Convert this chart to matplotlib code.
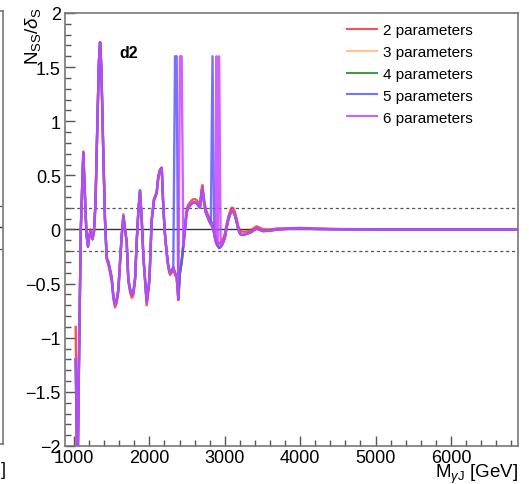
import matplotlib
matplotlib.use("Agg")
import matplotlib.pyplot as plt

plt.rcParams['font.family'] = ['Liberation Sans', 'DejaVu Sans']
plt.rcParams['mathtext.fontset'] = 'custom'
plt.rcParams['mathtext.rm'] = 'Liberation Sans'
plt.rcParams['mathtext.it'] = 'Liberation Sans:italic'

# mass points (GeV) and N_SS/delta_S for each fit function
mass = [1022, 1045, 1068, 1090, 1112, 1123, 1145, 1165, 1185, 1205, 1220, 1245,
        1265, 1285, 1310, 1330, 1345, 1362, 1385, 1410, 1433, 1455, 1477, 1500,
        1521, 1544, 1566, 1588, 1610, 1633, 1655, 1677, 1699, 1720, 1743, 1765,
        1787, 1810, 1832, 1853, 1875, 1898, 1920, 1942, 1964, 1985, 2000, 2030,
        2061, 2096, 2118, 2140, 2163, 2185, 2207, 2229, 2251, 2273, 2295, 2317,
        2340, 2361, 2383, 2405, 2428, 2450, 2472, 2494, 2516, 2538, 2560, 2583,
        2605, 2627, 2650, 2671, 2693, 2703, 2725, 2747, 2770, 2792, 2815, 2837,
        2860, 2870, 2880, 2890, 2905, 2925, 2945, 2965, 2985, 3003, 3025, 3047,
        3070, 3090, 3110, 3135, 3157, 3180, 3202, 3224, 3250, 3290, 3330, 3360,
        3400, 3422, 3450, 3510, 3600, 3700, 3800, 4000, 4200, 4500, 5000, 6000,
        6880]

nss_2par = [-0.90, -2.30, -1.05, 0.02, 0.52, 0.72, 0.32, -0.04, -0.13, -0.04, 0.00, -0.07,
            -0.01, 0.26, 1.00, 1.55, 1.73, 1.50, 0.80, 0.10, -0.28, -0.33, -0.40, -0.48,
            -0.64, -0.72, -0.68, -0.58, -0.32, -0.06, 0.14, 0.00, -0.12, -0.48, -0.58, -0.63,
            -0.61, -0.47, -0.10, 0.18, 0.35, 0.09, -0.26, -0.48, -0.70, -0.58, -0.48, 0.07,
            0.26, 0.33, 0.47, 0.54, 0.57, 0.20, -0.05, -0.23, -0.36, -0.42, -0.40, -0.37,
            -0.42, -0.45, -0.62, -0.38, -0.28, -0.12, 0.03, 0.19, 0.23, 0.25, 0.27, 0.28,
            0.28, 0.27, 0.25, 0.23, 0.38, 0.41, 0.28, 0.19, 0.15, 0.11, 0.08, 0.05,
            -0.01, -0.05, -0.08, -0.10, -0.12, -0.13, -0.12, -0.10, -0.07, -0.03, 0.05, 0.12,
            0.17, 0.20, 0.20, 0.16, 0.10, 0.03, -0.01, -0.02, -0.02, -0.02, -0.01, 0.00,
            0.02, 0.03, 0.02, 0.00, 0.00, 0.01, 0.01, 0.015, 0.01, 0.005, 0.00, 0.00,
            0.00]

nss_3par = [-1.20, -2.40, -1.10, 0.00, 0.48, 0.70, 0.30, -0.05, -0.16, -0.05, -0.02, -0.09,
            -0.02, 0.25, 1.00, 1.55, 1.73, 1.50, 0.80, 0.10, -0.26, -0.30, -0.37, -0.45,
            -0.61, -0.69, -0.65, -0.55, -0.30, -0.05, 0.12, 0.00, -0.12, -0.46, -0.55, -0.60,
            -0.58, -0.45, -0.10, 0.16, 0.36, 0.09, -0.25, -0.46, -0.67, -0.55, -0.46, 0.09,
            0.28, 0.34, 0.49, 0.55, 0.57, 0.20, -0.05, -0.21, -0.34, -0.40, -0.38, -0.35,
            -0.40, -0.43, -0.65, -0.40, -0.30, -0.15, 0.00, 0.16, 0.20, 0.22, 0.24, 0.25,
            0.25, 0.24, 0.22, 0.20, 0.35, 0.38, 0.25, 0.16, 0.12, 0.08, 0.05, 0.02,
            -0.04, -0.08, -0.11, -0.13, -0.15, -0.17, -0.16, -0.14, -0.11, -0.07, 0.02, 0.09,
            0.14, 0.17, 0.17, 0.13, 0.07, 0.00, -0.04, -0.05, -0.05, -0.04, -0.03, -0.02,
            0.00, 0.01, 0.00, -0.015, -0.01, 0.00, 0.005, 0.01, 0.005, 0.002, 0.00, 0.00,
            0.00]

nss_4par = list(nss_3par)

nss_5par = [-1.20, -2.40, -1.10, 0.00, 0.48, 0.70, 0.30, -0.05, -0.16, -0.05, -0.02, -0.09,
            -0.02, 0.25, 1.00, 1.55, 1.73, 1.50, 0.80, 0.10, -0.26, -0.30, -0.37, -0.45,
            -0.61, -0.69, -0.65, -0.55, -0.30, -0.05, 0.12, 0.00, -0.12, -0.46, -0.55, -0.60,
            -0.58, -0.45, -0.10, 0.16, 0.36, 0.09, -0.25, -0.46, -0.67, -0.55, -0.46, 0.09,
            0.28, 0.34, 0.49, 0.55, 0.57, 0.20, -0.05, -0.21, -0.34, -0.40, -0.38, -0.35,
            1.60, 1.60, -0.65, -0.40, -0.30, -0.15, 0.00, 0.16, 0.20, 0.22, 0.24, 0.25,
            0.25, 0.24, 0.22, 0.20, 0.35, 0.38, 0.25, 0.16, 0.12, 0.08, 0.05, 1.60,
            -0.04, -0.08, -0.11, -0.13, -0.15, -0.17, -0.16, -0.14, -0.11, -0.07, 0.02, 0.09,
            0.14, 0.17, 0.17, 0.13, 0.07, 0.00, -0.04, -0.05, -0.05, -0.04, -0.03, -0.02,
            0.00, 0.01, 0.00, -0.015, -0.01, 0.00, 0.005, 0.01, 0.005, 0.002, 0.00, 0.00,
            0.00]

nss_6par = [-1.20, -2.40, -1.10, 0.00, 0.48, 0.70, 0.30, -0.05, -0.16, -0.05, -0.02, -0.09,
            -0.02, 0.25, 1.00, 1.55, 1.73, 1.50, 0.80, 0.10, -0.26, -0.30, -0.37, -0.45,
            -0.61, -0.69, -0.65, -0.55, -0.30, -0.05, 0.12, 0.00, -0.12, -0.46, -0.55, -0.60,
            -0.58, -0.45, -0.10, 0.16, 0.36, 0.09, -0.25, -0.46, -0.67, -0.55, -0.46, 0.09,
            0.28, 0.34, 0.49, 0.55, 0.57, 0.20, -0.05, -0.21, -0.34, -0.40, -0.38, -0.35,
            -0.40, -0.43, -0.65, 1.60, 1.60, -0.15, 0.00, 0.16, 0.20, 0.22, 0.24, 0.25,
            0.25, 0.24, 0.22, 0.20, 0.35, 0.38, 0.25, 0.16, 0.12, 0.08, 0.05, 0.02,
            -0.04, -0.08, -0.11, 1.60, -0.15, 1.60, -0.16, -0.14, -0.11, -0.07, 0.02, 0.09,
            0.14, 0.17, 0.17, 0.13, 0.07, 0.00, -0.04, -0.05, -0.05, -0.04, -0.03, -0.02,
            0.00, 0.01, 0.00, -0.015, -0.01, 0.00, 0.005, 0.01, 0.005, 0.002, 0.00, 0.00,
            0.00]

labels = ['2 parameters', '3 parameters', '4 parameters', '5 parameters', '6 parameters']
colors = ['#ff3030', '#ffbb77', '#228822', '#5a5aff', '#c845ff']
series = [nss_2par, nss_3par, nss_4par, nss_5par, nss_6par]

fig = plt.figure(figsize=(5.29, 4.85), dpi=100)

# neighbouring panel, mostly cut off at the left edge
ax0 = fig.add_axes([-0.5, 0.0825, 0.5 + 3 / 529, 0.8928])
ax0.set_xlim(0, 1)
ax0.set_ylim(-2, 2)
ax0.axhline(0, color='#333333', lw=1)
ax0.axhline(0.2, color='#555555', lw=0.9, ls=(0, (2.5, 2.2)))
ax0.axhline(-0.2, color='#555555', lw=0.9, ls=(0, (2.5, 2.2)))
ax0.set_xticks([])
ax0.set_yticks([])
for sp in ax0.spines.values():
    sp.set_color('#777777')
    sp.set_linewidth(1.2)
fig.text(0.002, 0.03, ']', fontsize=13, ha='left', va='center')

ax = fig.add_axes([65 / 529, 1 - 447 / 485, (518 - 65) / 529, (447 - 14) / 485])

for vals, c, lab in zip(series, colors, labels):
    ax.plot(mass, vals, color=c, lw=1.7, alpha=0.85, label=lab)

ax.axhline(0, color='#333333', lw=1, zorder=1)
ax.axhline(0.2, color='#555555', lw=0.9, ls=(0, (2.5, 2.2)), zorder=1)
ax.axhline(-0.2, color='#555555', lw=0.9, ls=(0, (2.5, 2.2)), zorder=1)

ax.set_xlim(880, 6890)
ax.set_ylim(-2, 2)
ax.set_xticks([1000, 2000, 3000, 4000, 5000, 6000])
ax.set_xticks(list(range(1200, 6890, 200)), minor=True)
ax.set_yticks([-2, -1.5, -1, -0.5, 0, 0.5, 1, 1.5, 2])
ax.set_yticklabels(['\u22122', '\u22121.5', '\u22121', '\u22120.5', '0', '0.5', '1', '1.5', '2'])
ax.set_yticks([i / 10 for i in range(-20, 21)], minor=True)
ax.tick_params(which='both', direction='in', colors='#555555', labelcolor='black',
               labelsize=13, top=False, right=False)
ax.tick_params(which='major', length=7, width=1)
ax.tick_params(which='minor', length=4, width=1)
ax.tick_params(axis='x', pad=2)
ax.tick_params(axis='y', pad=3)
for sp in ax.spines.values():
    sp.set_color('#777777')
    sp.set_linewidth(1.2)

ax.set_xlabel(r'M$_{\gamma\mathrm{J}}$ [GeV]', fontsize=13.5, loc='right', labelpad=-3)
ax.set_ylabel(r'N$_{\mathrm{SS}}$/$\delta_{\mathrm{S}}$', fontsize=13.5, loc='top')
ax.yaxis.set_label_coords(-0.049, 1.015)

ax.text(0.119, 0.898, 'd2', transform=ax.transAxes, fontsize=11.5, fontweight='bold')

leg = ax.legend(loc='upper left', bbox_to_anchor=(0.622, 0.977), frameon=False,
                fontsize=11, handlelength=2.0, handletextpad=0.4, labelspacing=0.52,
                borderpad=0, borderaxespad=0)
for line in leg.get_lines():
    line.set_linewidth(1.5)

fig.savefig('out.png', dpi=100)
